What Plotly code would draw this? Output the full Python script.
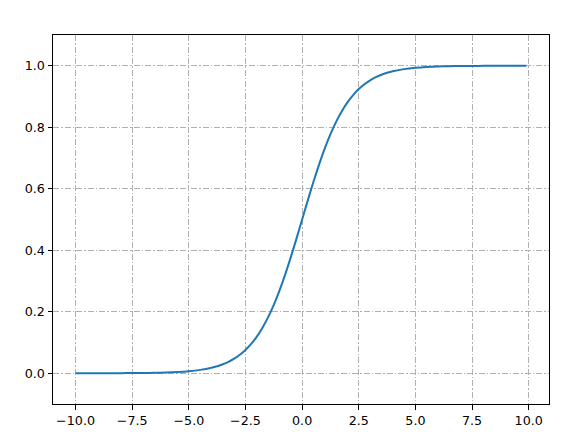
import plotly.graph_objects as go

x_values = [-10.0, -9.5, -9.0, -8.5, -8.0, -7.5, -7.0, -6.5, -6.0, -5.5, -5.0, -4.5,
            -4.0, -3.75, -3.5, -3.25, -3.0, -2.75, -2.5, -2.25, -2.0, -1.75, -1.5, -1.25,
            -1.0, -0.75, -0.5, -0.25, 0.0, 0.25, 0.5, 0.75, 1.0, 1.25, 1.5, 1.75,
            2.0, 2.25, 2.5, 2.75, 3.0, 3.25, 3.5, 3.75, 4.0, 4.5, 5.0, 5.5,
            6.0, 6.5, 7.0, 7.5, 8.0, 8.5, 9.0, 9.5, 9.9]
y_values = [0.0000, 0.0001, 0.0001, 0.0002, 0.0003, 0.0006, 0.0009, 0.0015, 0.0025, 0.0041, 0.0067, 0.0110,
            0.0180, 0.0230, 0.0293, 0.0373, 0.0474, 0.0601, 0.0759, 0.0953, 0.1192, 0.1480, 0.1824, 0.2227,
            0.2689, 0.3208, 0.3775, 0.4378, 0.5000, 0.5622, 0.6225, 0.6792, 0.7311, 0.7773, 0.8176, 0.8520,
            0.8808, 0.9047, 0.9241, 0.9399, 0.9526, 0.9627, 0.9707, 0.9770, 0.9820, 0.9890, 0.9933, 0.9959,
            0.9975, 0.9985, 0.9991, 0.9994, 0.9997, 0.9998, 0.9999, 0.9999, 1.0000]

x_ticks = [-10.0, -7.5, -5.0, -2.5, 0.0, 2.5, 5.0, 7.5, 10.0]
y_ticks = [0.0, 0.2, 0.4, 0.6, 0.8, 1.0]

fig = go.Figure()
fig.add_trace(go.Scatter(x=x_values, y=y_values, mode="lines",
                         line=dict(color="#1f77b4", width=2, shape="spline", smoothing=0.6),
                         showlegend=False))

axis_common = dict(
    showline=True, mirror=True, linecolor="black", linewidth=1,
    ticks="outside", ticklen=4.5, tickwidth=1, tickcolor="black",
    showgrid=True, gridcolor="#b0b0b0", gridwidth=1, griddash="6px,2px,1.5px,2px",
    zeroline=False, tickfont=dict(family="DejaVu Sans", size=12.7, color="black"),
    tickformat=".1f",
)

fig.update_xaxes(range=[-10.995, 10.895], tickvals=x_ticks, **axis_common)
fig.update_yaxes(range=[-0.1, 1.1], tickvals=y_ticks, **axis_common)

fig.update_layout(
    width=579, height=432,
    margin=dict(l=45, r=38, t=27, b=36),
    paper_bgcolor="white", plot_bgcolor="white",
)

fig.write_html("out.html")
